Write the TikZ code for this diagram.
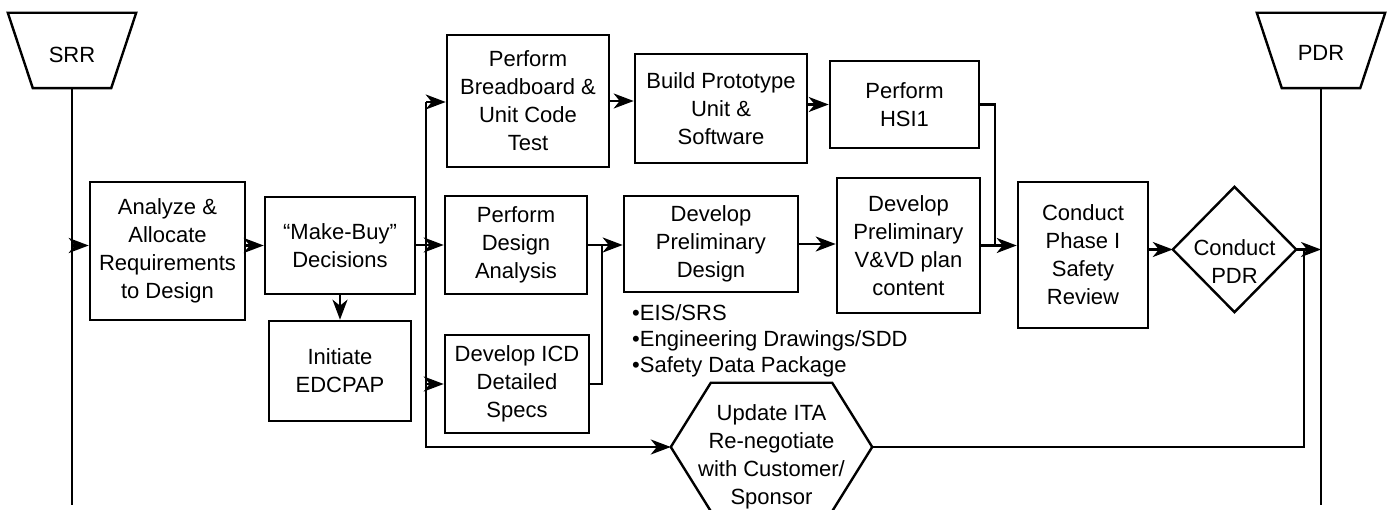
\documentclass[tikz,border=0pt]{standalone}
\usepackage{fontspec}
\setmainfont{Liberation Sans}
\usetikzlibrary{arrows.meta,calc}

\begin{document}
\begin{tikzpicture}[x=1pt,y=-1pt,
    font=\fontsize{22}{28}\selectfont,
    box/.style={draw,line width=2.6pt,align=center,inner sep=0pt},
    frame/.style={align=center,inner sep=0pt},
    outline/.style={line width=2.4pt,line join=miter},
    ln/.style={line width=2.4pt},
    arr/.style={line width=2.4pt,-{Stealth[length=20pt,width=15pt,inset=6pt]}}]

\useasboundingbox (0,0) rectangle (1387,510);

% milestones
\node[frame,minimum width=128,minimum height=75] (SRR) at (72,50.5) {};
\node[frame] (srrtxt) at ([yshift=-4pt]SRR.center) {SRR};
\draw[outline] (SRR.north west) -- (SRR.north east) -- ($(SRR.south east)+(-25,0)$) -- ($(SRR.south west)+(25,0)$) -- cycle;
\node[frame,minimum width=128,minimum height=75] (PDR) at (1321,50.5) {};
\node[frame] (pdrtxt) at ([yshift=-2pt]PDR.center) {PDR};
\draw[outline] (PDR.north west) -- (PDR.north east) -- ($(PDR.south east)+(-25,0)$) -- ($(PDR.south west)+(25,0)$) -- cycle;
\coordinate (srrend) at (72,505);
\coordinate (pdrend) at (1321,505);
\draw[ln] (SRR.south) -- (srrend);
\draw[ln] (PDR.south) -- (pdrend);

% tasks
\node[box,minimum width=155,minimum height=138] (analyze) at (167.5,251) {Analyze \&\\Allocate\\Requirements\\to Design};
\node[box,minimum width=150,minimum height=97] (makebuy) at (340,245.5) {“Make-Buy”\\Decisions};
\node[box,minimum width=142,minimum height=100] (initiate) at (340,371) {Initiate\\EDCPAP};
\node[box,minimum width=162,minimum height=132] (bread) at (528,101) {Perform\\Breadboard \&\\Unit Code\\Test};
\node[box,minimum width=142,minimum height=98] (design) at (516,245) {Perform\\Design\\Analysis};
\node[box,minimum width=144,minimum height=98] (icd) at (517,384) {Develop ICD\\Detailed\\Specs};
\node[box,minimum width=172,minimum height=109] (proto) at (721,108.5) {Build Prototype\\Unit \&\\Software};
\node[box,minimum width=174,minimum height=96] (prelim) at (711,244) {Develop\\Preliminary\\Design};
\node[box,minimum width=149,minimum height=87] (hsi) at (904.5,104.5) {Perform\\HSI1};
\node[box,minimum width=143,minimum height=135] (vvd) at (908.5,245.5) {Develop\\Preliminary\\V\&VD plan\\content};
\node[box,minimum width=130,minimum height=146] (safety) at (1083,255) {Conduct\\Phase I\\Safety\\Review};
\node[align=left,anchor=north west,inner sep=0pt,font=\fontsize{22}{26}\selectfont] (outputs) at (632,304) {•EIS/SRS\\•Engineering Drawings/SDD\\•Safety Data Package};

% decision and re-negotiation
\node[frame,minimum width=123,minimum height=125] (cpdr) at (1234.5,249.5) {};
\node[frame] (cpdrtxt) at ([yshift=-12pt]cpdr.center) {Conduct\\PDR};
\draw[outline] (cpdr.north) -- (cpdr.east) -- (cpdr.south) -- (cpdr.west) -- cycle;
\node[frame,minimum width=201,minimum height=128] (update) at (771.5,447) {};
\node[frame] (updtxt) at ([yshift=-10pt]update.center) {Update ITA\\Re-negotiate\\with Customer/\\Sponsor};
\draw[outline] (update.west) -- ($(update.north west)+(40,0)$) -- ($(update.north east)+(-40,0)$) -- (update.east) -- ($(update.south east)+(-40,0)$) -- ($(update.south west)+(40,0)$) -- cycle;

% flow
\coordinate (ttop) at (426,102);
\coordinate (icdjoin) at (602,0);
\coordinate (hsijoin) at (995,0);
\coordinate (pdrjoin) at (1304,0);
\draw[arr] (SRR.south |- makebuy.west) -- (analyze.west |- makebuy.west);
\draw[arr] (analyze.east |- makebuy.west) -- (makebuy.west);
\draw[arr] (makebuy.south) -- (initiate.north);
\draw[arr] (ttop) -- (ttop |- update.west) -- (update.west);
\draw[arr] (ttop) -- (ttop -| bread.west);
\draw[arr] (makebuy.east |- design.west) -- (design.west);
\draw[arr] (icd.west -| ttop) -- (icd.west);
\draw[arr] (bread.east) -- (bread.east -| proto.west);
\draw[arr] (proto.east |- hsi.west) -- (hsi.west);
\draw[arr] (design.east) -- (design.east -| prelim.west);
\draw[ln] (icd.east) -| (icdjoin |- design.east);
\draw[arr] (prelim.east) -- (prelim.east -| vvd.west);
\draw[ln] (hsi.east) -| (hsijoin |- vvd.east);
\draw[arr] (vvd.east) -- (vvd.east -| safety.west);
\draw[arr] (safety.east |- cpdr.west) -- (cpdr.west);
\draw[arr] (cpdr.east) -- (cpdr.east -| PDR.south);
\draw[ln] (update.east) -| (pdrjoin |- cpdr.east);
\end{tikzpicture}
\end{document}
